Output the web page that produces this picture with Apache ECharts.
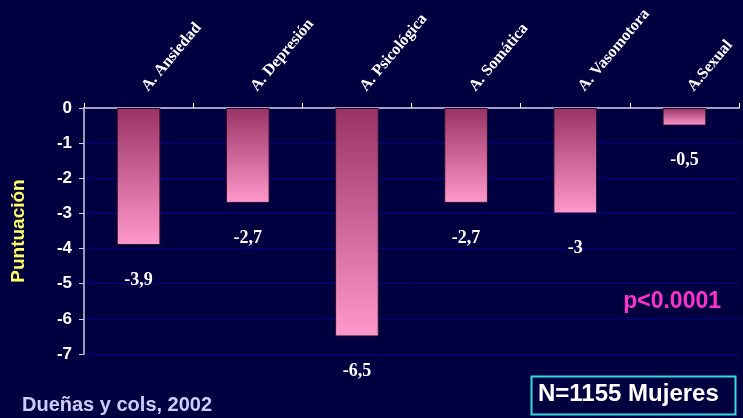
<!DOCTYPE html>
<html><head><meta charset="utf-8">
<script src="https://cdn.jsdelivr.net/npm/echarts@6/dist/echarts.min.js"></script>
<style>html,body{margin:0;padding:0;background:#000040;}#c{width:743px;height:418px;}</style>
</head><body><div id="c"></div>
<script>
var categories = ['A. Ansiedad', 'A. Depresión', 'A. Psicológica', 'A. Somática', 'A. Vasomotora', 'A.Sexual'];
var values = [-3.9, -2.7, -6.5, -2.7, -3, -0.5];
var valueLabels = ['-3,9', '-2,7', '-6,5', '-2,7', '-3', '-0,5'];
var yAxisName = 'Puntuación';
var pText = 'p<0.0001';
var nText = 'N=1155 Mujeres';
var sourceText = 'Dueñas y cols, 2002';

var chart = echarts.init(document.getElementById('c'));
chart.setOption({
  backgroundColor: '#000040',
  animation: false,
  grid: {left: 84, right: 4, top: 108, bottom: 64},
  xAxis: {
    type: 'category', position: 'top', data: categories,
    axisLine: {lineStyle: {color: '#a0a0bc', width: 2}},
    axisTick: {show: true, inside: false, length: 5, lineStyle: {color: '#ffffff'}},
    axisLabel: {rotate: 50, color: '#ffffff', fontFamily: 'Liberation Serif', fontWeight: 'bold', fontSize: 16, margin: 24, verticalAlign: 'top', interval: 0}
  },
  yAxis: {
    type: 'value', min: -7, max: 0, interval: 1,
    name: yAxisName, nameLocation: 'middle', nameGap: 56,
    nameTextStyle: {color: '#ffff66', fontFamily: 'Liberation Sans', fontWeight: 'bold', fontSize: 19},
    axisLine: {show: true, lineStyle: {color: '#d0d0e0', width: 1.5}},
    axisTick: {show: true, length: 5, lineStyle: {color: '#d0d0e0'}},
    axisLabel: {color: '#ffffff', fontFamily: 'Liberation Sans', fontWeight: 'bold', fontSize: 17, margin: 12},
    splitLine: {show: true, lineStyle: {color: '#000090', width: 1}}
  },
  series: [{
    type: 'bar', data: values, barWidth: '40%',
    itemStyle: {
      borderColor: '#2a1030', borderWidth: 1,
      color: new echarts.graphic.LinearGradient(0, 0, 0, 1, [
        {offset: 0, color: '#993366'}, {offset: 1, color: '#ff99cc'}
      ])
    },
    label: {
      show: true, position: 'bottom', distance: 26,
      color: '#ffffff', fontFamily: 'Liberation Serif', fontWeight: 'bold', fontSize: 18,
      formatter: function (p) { return valueLabels[p.dataIndex]; }
    }
  }],
  graphic: [
    {type: 'text', right: 22, top: 290, style: {text: pText, fill: '#ff33cc', font: 'bold 23px "Liberation Sans"'}},
    {type: 'rect', left: 529, top: 374, shape: {width: 204, height: 38}, style: {fill: 'none', stroke: '#33dddd', lineWidth: 2}},
    {type: 'text', left: 538, top: 382, style: {text: nText, fill: '#ffffff', font: 'bold 24px "Liberation Sans"'}},
    {type: 'text', left: 22, top: 395, style: {text: sourceText, fill: '#ccccff', font: 'bold 20px "Liberation Sans"'}}
  ]
});
</script></body></html>
